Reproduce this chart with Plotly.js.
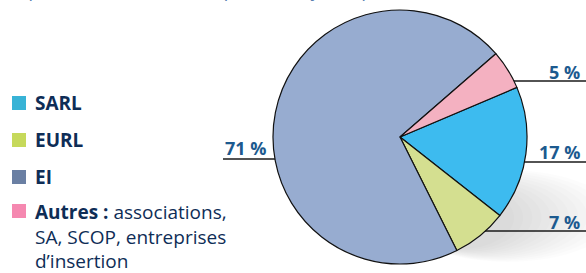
<!DOCTYPE html>
<html>
<head>
<meta charset="utf-8">
<script src="https://cdn.plot.ly/plotly-3.0.1.min.js"></script>
<style>
  html, body { margin: 0; padding: 0; background: #ffffff; }
  #chart { width: 586px; height: 273px; }
</style>
</head>
<body>
<div id="chart"></div>
<script>
// ---- data ----
const categories   = ['SARL', 'EURL', 'EI', 'Autres'];
const values       = [17, 7, 71, 5];
const valueLabels  = ['17 %', '7 %', '71 %', '5 %'];
const legendTexts  = ['<b>SARL</b>', '<b>EURL</b>', '<b>EI</b>',
                      '<b>Autres :</b> associations,<br>SA, SCOP, entreprises<br>d\u2019insertion'];
const titleText    = 'Répartition des créateurs par statut juridique';

// ---- styles ----
const sliceColors  = ['#3dbbef', '#d4df90', '#97acd0', '#f4b1c1'];
const legendColors = ['#38b3d6', '#c6d95b', '#6a7fa3', '#f588b0'];
const navy  = '#0e2d56';
const blue  = '#1c5a8f';
const W = 586, H = 273;
const px = x => x / W;
const py = y => 1 - y / H;

// pie geometry (pixels)
const cx = 400, cy = 137, r = 127;

// label positions (pixels)
const labelPos = {
  'SARL':   {x: 582, ty: 152, ly: 162, x0: 500, x1: 586, xa: 'right'},
  'EURL':   {x: 582, ty: 222, ly: 231, x0: 470, x1: 586, xa: 'right'},
  'EI':     {x: 223, ty: 148, ly: 159, x0: 223, x1: 300, xa: 'left'},
  'Autres': {x: 582, ty: 72,  ly: 81,  x0: 490, x1: 586, xa: 'right'}
};
const legendRowY = [103, 140, 177, 211];

const shapes = [];
// soft shadow under the pie (stacked translucent ellipses -> smooth gradient)
const nSteps = 12;
for (let k = 0; k < nSteps; k++) {
  const t = k / nSteps;
  const x0 = 400 + 10 * t, x1 = 615 - 110 * t;
  const y0 = 170 + 18 * t, y1 = 262 - 14 * t;
  shapes.push({
    type: 'circle', xref: 'paper', yref: 'paper', layer: 'below',
    x0: px(x0), x1: px(x1), y0: py(y1), y1: py(y0),
    fillcolor: 'rgba(0,0,0,0.013)', line: {width: 0}
  });
}
// leader lines (partly hidden under the pie)
categories.forEach(c => {
  const p = labelPos[c];
  shapes.push({
    type: 'line', xref: 'paper', yref: 'paper', layer: 'below',
    x0: px(p.x0), x1: px(p.x1), y0: py(p.ly), y1: py(p.ly),
    line: {color: '#1a1a1a', width: 1.5}
  });
});
// legend squares
categories.forEach((c, i) => {
  shapes.push({
    type: 'rect', xref: 'paper', yref: 'paper',
    x0: px(12), x1: px(26), y0: py(legendRowY[i] + 7), y1: py(legendRowY[i] - 7),
    fillcolor: legendColors[i], line: {width: 0}
  });
});

const annotations = [];
categories.forEach((c, i) => {
  const p = labelPos[c];
  annotations.push({
    xref: 'paper', yref: 'paper', x: px(p.x), y: py(p.ty),
    xanchor: p.xa, yanchor: 'middle', showarrow: false,
    text: '<b>' + valueLabels[i] + '</b>',
    font: {family: 'Open Sans, Noto Sans, sans-serif', size: 18, color: blue}
  });
});
legendTexts.forEach((t, i) => {
  const multi = t.indexOf('<br>') >= 0;
  annotations.push({
    xref: 'paper', yref: 'paper', x: px(33),
    y: multi ? py(legendRowY[i] - 14) : py(legendRowY[i]),
    xanchor: 'left', yanchor: multi ? 'top' : 'middle', align: 'left',
    showarrow: false, text: t,
    font: {family: 'Open Sans, Noto Sans, sans-serif', size: 19, color: navy}
  });
});
annotations.push({
  xref: 'paper', yref: 'paper', x: px(8), y: py(-10),
  xanchor: 'left', yanchor: 'middle', showarrow: false,
  text: '<i>' + titleText + '</i>',
  font: {family: 'Open Sans, Noto Sans, sans-serif', size: 19, color: '#5a80b0'}
});

const trace = {
  type: 'pie',
  labels: categories,
  values: values,
  sort: false,
  direction: 'clockwise',
  rotation: 67,
  marker: {colors: sliceColors, line: {color: '#111111', width: 1.2}},
  textinfo: 'none',
  hoverinfo: 'label+percent',
  showlegend: false,
  domain: {x: [px(cx - r), px(cx + r)], y: [py(cy + r), py(cy - r)]}
};

const layout = {
  width: W, height: H,
  margin: {l: 0, r: 0, t: 0, b: 0},
  paper_bgcolor: '#ffffff',
  showlegend: false,
  shapes: shapes,
  annotations: annotations
};

Plotly.newPlot('chart', [trace], layout, {displayModeBar: false, staticPlot: true});
</script>
</body>
</html>
